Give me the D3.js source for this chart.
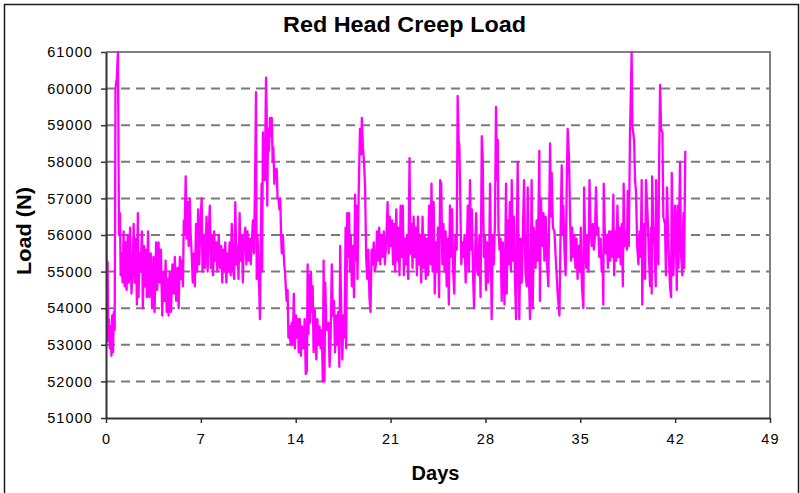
<!DOCTYPE html>
<html><head><meta charset="utf-8">
<script src="https://cdn.jsdelivr.net/npm/d3@7"></script>
<style>
body{margin:0;background:#fff}
svg{display:block}
text{font-family:"Liberation Sans",Arial,sans-serif}
</style>
</head><body><svg id="c" width="800" height="493"></svg>
<script>
const title = "Red Head Creep Load";
const xLabel = "Days";
const yLabel = "Load (N)";
const xTicks = [0,7,14,21,28,35,42,49];
const yTicks = [51000,52000,53000,54000,55000,56000,57000,58000,59000,60000,61000];

// time since start (days)
const days = [
0.00,0.04,0.12,0.16,0.22,0.28,0.34,0.40,0.46,0.52,
0.58,0.64,0.70,0.80,0.88,0.96,1.03,1.08,1.15,1.22,
1.30,1.38,1.45,1.52,1.60,1.68,1.78,1.88,1.98,2.04,
2.12,2.20,2.28,2.35,2.40,2.48,2.55,2.65,2.72,2.80,
2.88,2.95,3.02,3.10,3.20,3.30,3.40,3.50,3.58,3.70,
3.78,3.88,3.96,4.05,4.15,4.25,4.32,4.40,4.48,4.55,
4.62,4.70,4.80,4.90,5.00,5.08,5.18,5.28,5.36,5.45,
5.52,5.60,5.68,5.74,5.80,5.88,5.95,6.02,6.10,6.18,
6.25,6.32,6.40,6.48,6.56,6.64,6.72,6.80,6.88,6.96,
7.06,7.12,7.20,7.30,7.42,7.50,7.58,7.66,7.74,7.82,
7.90,7.98,8.06,8.14,8.22,8.32,8.42,8.50,8.58,8.66,
8.74,8.80,8.88,8.96,9.04,9.12,9.20,9.28,9.36,9.46,
9.54,9.62,9.70,9.78,9.86,9.94,10.02,10.10,10.18,10.28,
10.36,
10.44,10.52,10.60,10.68,10.76,10.84,10.92,11.00,11.07,11.12,
11.18,11.24,11.30,11.36,11.42,11.48,11.52,11.58,11.63,11.72,
11.81,11.86,11.90,11.96,12.03,12.10,12.18,12.23,12.30,12.35,
12.42,12.50,12.60,12.66,12.72,12.80,12.86,12.92,12.97,13.05,
13.15,13.21,13.28,13.33,13.40,13.46,13.55,13.62,13.70,13.78,
13.86,13.94,14.02,14.10,14.16,14.22,14.30,14.38,14.46,14.54,
14.60,14.66,14.74,14.82,14.88,14.94,15.00,15.06,15.12,15.18,
15.25,15.32,15.40,15.46,15.52,15.60,15.68,15.76,15.84,15.92,
16.00,16.06,16.12,16.18,16.26,16.34,16.42,16.50,16.58,16.66,
16.74,16.82,16.90,16.98,17.06,17.14,17.22,17.28,17.36,17.44,
17.52,17.60,17.68,17.72,17.80,17.88,17.94,18.00,18.06,18.14,
18.22,18.30,18.38,18.44,18.50,18.56,18.64,18.74,18.82,18.88,
18.96,19.04,19.12,19.20,19.28,19.36,19.44,19.52,19.60,19.68,
19.76,19.84,19.92,20.00,20.08,20.16,20.24,20.32,20.40,20.50,
20.58,20.68,20.78,20.86,20.94,21.02,21.10,21.18,
21.26,21.34,21.42,21.50,21.58,21.66,21.74,21.82,21.90,21.98,
22.06,22.14,22.22,22.30,22.40,22.46,22.54,22.62,22.70,22.78,
22.86,22.94,23.02,23.10,23.18,23.26,23.36,23.44,23.52,23.60,
23.68,23.76,23.84,23.94,24.02,24.10,24.18,24.26,24.34,24.42,
24.50,24.58,24.66,24.74,24.82,24.90,24.98,25.06,25.14,25.22,
25.30,25.38,25.46,25.54,25.62,25.70,25.78,25.88,25.95,26.02,
26.08,26.16,26.22,26.30,26.38,26.46,26.54,26.62,26.70,26.78,
26.86,26.94,27.00,27.08,27.16,27.24,27.32,27.40,27.48,27.56,
27.64,27.73,27.80,27.88,27.96,28.04,28.12,28.20,28.28,28.34,
28.42,28.46,28.54,28.62,28.70,28.78,28.86,28.91,28.96,29.04,
29.12,29.20,29.28,29.36,29.40,29.48,29.52,29.57,29.64,29.72,
29.80,29.88,29.94,30.02,30.10,30.18,30.26,30.32,30.38,30.44,
30.50,30.58,30.68,30.76,30.85,30.95,31.05,31.12,31.20,31.29,
31.36,31.41,31.49,31.56,31.61,31.70,31.78,31.86,31.98,32.02,
32.10,32.18,32.28,32.35,32.45,32.55,32.64,32.77,32.84,32.89,
32.98,33.09,33.21,33.33,33.46,33.55,33.63,33.70,33.75,33.84,
33.92,34.00,34.07,34.17,34.24,34.32,34.40,34.48,34.56,34.64,
34.72,34.80,34.88,34.96,35.04,35.12,35.23,35.28,35.36,35.44,
35.52,35.60,35.68,35.76,35.84,35.92,36.00,36.08,36.16,36.24,
36.33,36.40,36.50,36.58,36.64,36.70,36.73,36.80,36.88,36.96,
37.04,37.12,37.20,37.28,37.36,37.44,37.50,37.58,37.66,37.74,
37.82,37.90,37.98,38.06,38.14,38.20,38.28,38.36,38.44,38.50,
38.58,38.67,38.79,38.84,38.97,39.04,39.11,39.20,39.29,39.38,
39.46,39.53,39.57,39.65,39.72,39.78,39.85,39.95,40.05,40.15,
40.22,40.27,40.30,40.39,40.48,40.57,40.59,40.68,40.76,40.82,
40.89,40.96,41.06,41.13,41.25,41.32,41.40,41.50,41.62,41.70,
41.75,41.87,41.99,42.06,42.12,42.19,42.24,42.36,42.43,42.53,
42.61,42.66,42.75
];

// creep load (N)
const loads = [
57900,55300,55250,53100,53700,52900,53500,52700,53800,52800,
53900,53400,60000,60300,61000,56000,56600,54900,55500,54700,
56100,54600,55800,54500,56000,54700,56200,54400,55200,56300,
54700,55900,54100,56600,54300,55500,55000,56100,54000,55700,
54600,55600,54300,56100,54300,55500,54000,55400,53900,55800,
54500,55800,54700,55600,53800,55000,54200,55300,53900,54800,
53800,55000,53900,55200,54400,55400,54200,55100,54000,55400,
54800,55300,54600,56400,56000,57600,55900,56900,55700,57000,
56000,55500,54700,55500,54600,56300,55000,56700,55200,56300,
57000,55000,56000,55100,56500,55000,56100,56800,55100,56000,
54900,56100,55300,55800,55000,56000,55100,55700,54700,55600,
55000,55800,54700,55500,55000,55800,54900,56300,55100,54800,
56900,55200,55700,54800,56600,55300,56000,54700,55900,56200,
55200,
56100,55300,55900,55200,55800,56400,55500,57500,59900,54800,
56000,55300,54600,53700,55800,57400,55000,58800,57700,57500,
60300,59300,56800,58900,58300,59200,58700,59200,58000,58400,
57400,57800,57800,57000,57000,56700,57000,56000,55500,56000,
55200,55000,54500,54200,54500,53200,53500,53000,53600,53000,
54400,52900,53800,53200,53700,52800,53700,52700,53500,52900,
53200,53700,52200,52300,55200,53300,54900,53600,55000,53900,
54600,52800,54000,53400,52600,53700,53000,53500,52900,53400,
52000,55300,52000,54700,53400,53600,53600,52400,53200,55200,
53800,54200,52800,53800,53000,53900,52400,55700,53900,52600,
53800,53200,56200,52900,56600,55400,56600,55000,56000,54600,
55700,54300,57100,55300,56800,54800,57000,58900,58200,59200,
58400,58000,57300,55400,54800,55600,54300,53900,55600,55200,
55800,55000,55200,56100,55300,56200,55200,56000,55400,56100,
55200,55800,56900,55500,56500,55700,56400,55200,
56300,55000,56700,55300,56200,54900,56800,55400,56800,54900,
55900,55200,56000,54800,58100,55500,56300,55100,56500,55400,
56200,54900,56500,55200,56000,54700,56500,55100,56000,54800,
55900,54900,56800,55200,57400,55000,56900,54400,55800,55000,
56200,54300,57500,57400,55200,56300,55000,56100,54600,55900,
54100,56800,55400,56700,55000,54400,56000,55600,59800,58600,
58400,56600,55200,55800,55400,56000,54700,55500,56800,55000,
57500,55600,56700,55000,54000,55500,56600,55000,54900,56000,
54300,58700,58100,55400,56000,54500,55800,54700,55500,57400,
55000,53700,56000,55200,56300,59500,57500,58600,56200,55600,
55900,54200,55800,55000,54100,56000,57400,54400,56400,55200,
56900,55000,57500,55300,56500,54800,53700,56000,58000,55400,
53700,55900,54700,56000,57500,55000,54600,57300,55000,53700,
55600,57500,54000,56200,56000,55100,56400,55300,58300,54200,
57000,55700,56600,55300,56500,55200,54600,58500,56500,57700,
56200,56100,55200,54400,53800,56200,57900,56000,56800,55500,
54900,57400,58900,58100,56600,55300,56200,55400,56000,55100,
55900,54800,55700,55000,56200,54600,54000,57300,55800,55100,
56000,55000,57500,56200,55700,56300,55600,56000,57300,56000,
56200,55400,55900,55000,55400,54100,57400,56200,55500,56000,
55100,56100,55300,56100,55400,57100,54900,56100,55300,56800,
55400,56200,55200,56300,54600,57400,55700,56100,55600,57200,
55700,58800,61000,59000,58600,57500,57200,55700,55200,56100,
55400,57500,54100,56300,55500,54800,57500,56700,55600,54600,
56200,54400,57600,56300,55600,54600,57500,55800,55200,58100,
60100,58900,58800,56500,56300,54900,57300,55800,54600,54300,
57700,54900,56800,56000,54500,56800,55100,58000,55500,54900,
56600,55100,58300
];

const n = Math.min(days.length, loads.length);
if (days.length !== loads.length) console.warn("length mismatch", days.length, loads.length);
const points = d3.range(n).map(i => [days[i], loads[i]]);

const svg = d3.select("#c");
const x = d3.scaleLinear().domain([0, 49]).range([106, 770]);
const y = d3.scaleLinear().domain([51000, 61000]).range([418, 52]);

// outer chart border
svg.append("rect").attr("x", 4.5).attr("y", 4.5).attr("width", 794).attr("height", 500)
  .attr("fill", "#fff").attr("stroke", "#1a1a1a").attr("stroke-width", 1.5);

// dashed horizontal gridlines
svg.append("g").selectAll("line").data(yTicks.filter(v => v > 51000 && v < 61000)).join("line")
  .attr("x1", x(0)).attr("x2", x(49))
  .attr("y1", d => y(d)).attr("y2", d => y(d))
  .attr("stroke", "#7a7a7a").attr("stroke-width", 2).attr("stroke-dasharray", "9,6");

// plot frame (top and right)
svg.append("path")
  .attr("d", `M${x(0)},${y(61000)}H${x(49)}V${y(51000)}`)
  .attr("fill", "none").attr("stroke", "#808080").attr("stroke-width", 2);

// data line
const clipId = "plotclip";
svg.append("clipPath").attr("id", clipId).append("rect")
  .attr("x", x(0)).attr("y", y(61000) - 1).attr("width", x(49) - x(0)).attr("height", y(51000) - y(61000) + 1);
svg.append("path").datum(points)
  .attr("clip-path", `url(#${clipId})`)
  .attr("fill", "none").attr("stroke", "#ff00ff").attr("stroke-width", 2.3)
  .attr("stroke-linejoin", "round")
  .attr("d", d3.line().x(d => x(d[0])).y(d => y(d[1])));

// axes
const yAxis = svg.append("g").attr("transform", `translate(${x(0)},0)`)
  .call(d3.axisLeft(y).tickValues(yTicks).tickFormat(d3.format("d")).tickSizeInner(5).tickSizeOuter(0).tickPadding(8));
const xAxis = svg.append("g").attr("transform", `translate(0,${y(51000)})`)
  .call(d3.axisBottom(x).tickValues(xTicks).tickFormat(d3.format("d")).tickSizeInner(5).tickSizeOuter(0).tickPadding(11));
[yAxis, xAxis].forEach(g => {
  g.select(".domain").attr("stroke", "#333").attr("stroke-width", 2);
  g.selectAll(".tick line").attr("stroke", "#333").attr("stroke-width", 1.5);
  g.selectAll(".tick text").attr("fill", "#000").style("font-size", "14.5px")
    .style("letter-spacing", "1.1px")
    .style("font-family", '"Liberation Sans", Arial, sans-serif');
});

// title and axis labels
svg.append("text").attr("x", 404.5).attr("y", 32).attr("text-anchor", "middle")
  .style("font-size", "22px").style("font-weight", "bold")
  .attr("textLength", 243).attr("lengthAdjust", "spacingAndGlyphs").text(title);
svg.append("text").attr("x", 435.5).attr("y", 480).attr("text-anchor", "middle")
  .style("font-size", "20px").style("font-weight", "bold").text(xLabel);
svg.append("text").attr("transform", "translate(31,231) rotate(-90)").attr("text-anchor", "middle")
  .style("font-size", "20px").style("font-weight", "bold")
  .attr("textLength", 88).attr("lengthAdjust", "spacingAndGlyphs").text(yLabel);
</script>
</body></html>
